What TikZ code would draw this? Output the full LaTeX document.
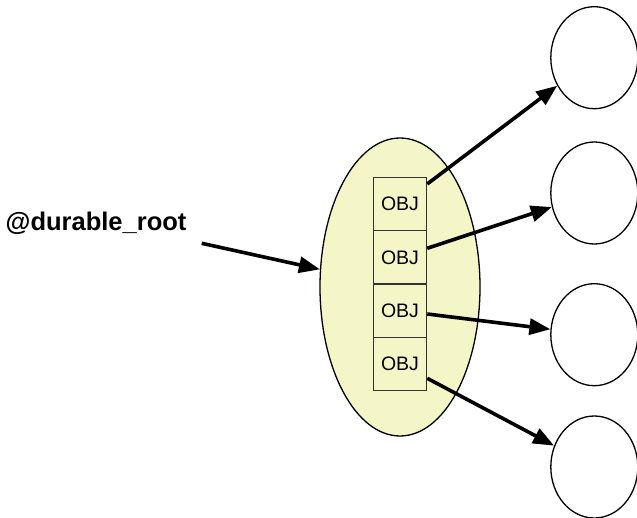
\documentclass[tikz,border=0pt]{standalone}
\usepackage{fontspec}
\setmainfont{Liberation Sans}
\usetikzlibrary{arrows.meta,shapes.geometric}
\definecolor{paleyellow}{RGB}{245,246,200}
\definecolor{boxline}{RGB}{50,50,50}
\begin{document}
\begin{tikzpicture}[x=1pt,y=-1pt,
  objbox/.style={draw=boxline,fill=paleyellow,line width=1.2pt,minimum width=53.3pt,minimum height=53.3pt,inner sep=0pt,font=\fontsize{19.5}{22}\selectfont},
  target/.style={draw=black,ellipse,line width=1.3pt,minimum width=87pt,minimum height=102pt,inner sep=0pt},
  link/.style={line width=3.6pt,-{Triangle[length=21pt,width=16pt]}}]
\useasboundingbox (0,0) rectangle (637,518);
\node[draw=black,fill=paleyellow,ellipse,line width=1.3pt,minimum width=160pt,minimum height=298pt,inner sep=0pt] (e) at (400,287) {};
\node[objbox] (b1) at (400,204) {OBJ};
\node[objbox] (b2) at (400,257.3) {OBJ};
\node[objbox] (b3) at (400,310.7) {OBJ};
\node[objbox] (b4) at (400,364) {OBJ};
\node[target] (c1) at (594.3,57.7) {};
\node[target] (c2) at (594.3,193) {};
\node[target] (c3) at (594.3,334.7) {};
\node[target] (c4) at (594.3,467) {};
\node[anchor=base west,inner sep=0pt,font=\fontsize{25.5}{30}\selectfont\bfseries] (root) at (5.5,230.7) {@durable\_root};
\coordinate (rs) at (201.7,243.3);
\draw[link] (rs) -- (e);
\draw[link] ([yshift=20pt]b1.east) -- (c1);
\draw[link] ([yshift=9pt]b2.east) -- (c2);
\draw[link] ([yshift=-3.3pt]b3.east) -- (c3);
\draw[link] ([yshift=-14.3pt]b4.east) -- (c4);
\end{tikzpicture}
\end{document}
